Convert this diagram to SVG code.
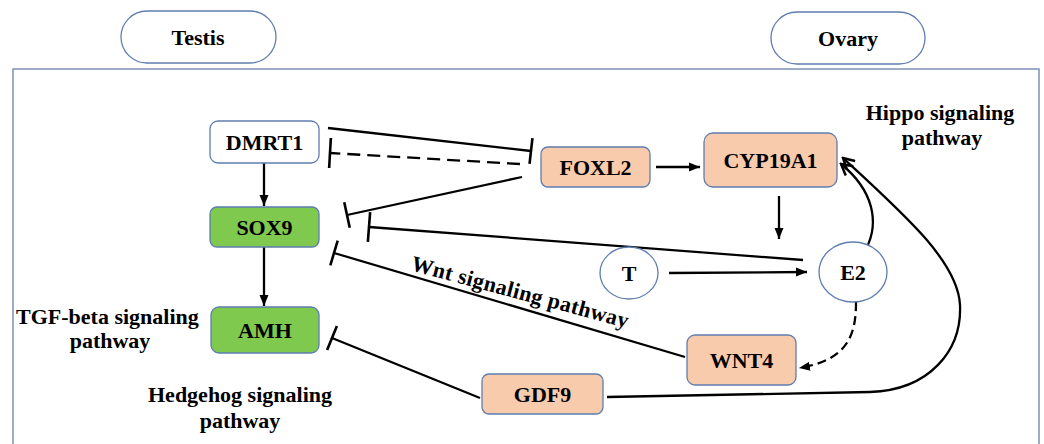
<svg xmlns="http://www.w3.org/2000/svg" width="1044" height="444" viewBox="0 0 1044 444">
<style>
text{font-family:"Liberation Serif","Times New Roman",serif;font-weight:bold;fill:#000;}
.lbl{font-size:22px;text-anchor:middle;}
.pw{font-size:22px;}
.box{stroke:#5f7db0;stroke-width:1.3;}
.peach{fill:#f8cbad;}
.green{fill:#7fc94f;}
.white{fill:#fff;}
.c{fill:none;stroke:#000;stroke-width:2.3;}
</style>
<defs>
<marker id="arr" markerUnits="userSpaceOnUse" markerWidth="12" markerHeight="10" refX="11" refY="5" orient="auto"><path d="M0,0.5 L11,5 L0,9.5 z" fill="#000"/></marker>
<marker id="open" markerUnits="userSpaceOnUse" markerWidth="14" markerHeight="14" refX="12" refY="7" orient="auto"><path d="M1,1 L12,7 L1,13" fill="none" stroke="#000" stroke-width="2.5"/></marker>
<marker id="tb26" markerUnits="userSpaceOnUse" markerWidth="6" markerHeight="32" refX="3" refY="16" orient="auto" overflow="visible"><path d="M3,3 L3,29" stroke="#000" stroke-width="2.6"/></marker>
<marker id="tb30" markerUnits="userSpaceOnUse" markerWidth="6" markerHeight="34" refX="3" refY="17" orient="auto" overflow="visible"><path d="M3,2 L3,32" stroke="#000" stroke-width="2.6"/></marker>
</defs>
<rect width="1044" height="444" fill="#fff"/>
<rect x="13" y="69" width="1026" height="390" fill="none" stroke="#7f93b5" stroke-width="1.5"/>
<g id="testis"><rect x="121" y="11" width="155" height="52" rx="26" fill="#fff" stroke="#5f7db0" stroke-width="1.3"/><text class="lbl" x="198" y="45">Testis</text></g>
<g id="ovary"><rect x="771" y="12" width="154" height="52" rx="26" fill="#fff" stroke="#5f7db0" stroke-width="1.3"/><text class="lbl" x="848" y="46">Ovary</text></g>
<g id="connectors">
<path class="c" d="M264,163 L264,206" marker-end="url(#arr)"/>
<path class="c" d="M264,247 L264,306" marker-end="url(#arr)"/>
<path class="c" d="M328,128 L531,151" marker-end="url(#tb26)"/>
<path class="c" d="M520,164 L330,153" stroke-dasharray="13,7" marker-end="url(#tb30)"/>
<path class="c" d="M522,177 L347,215" marker-end="url(#tb26)"/>
<path class="c" d="M803,260 L369,227" marker-end="url(#tb30)"/>
<path class="c" d="M685,357 L334,253" marker-end="url(#tb26)"/>
<path class="c" d="M480,398 L332,338" marker-end="url(#tb26)"/>
<path class="c" d="M656,167 L700,167" marker-end="url(#arr)"/>
<path class="c" d="M779,196 L779,239" marker-end="url(#arr)"/>
<path class="c" d="M669,273 L807,272" marker-end="url(#arr)"/>
<path class="c" d="M866,249 C880,222 873,190 841,164" stroke-width="2.8" marker-end="url(#open)"/>
<path class="c" d="M607,397 L870,392 C930,390 962,350 960,305 C958,262 905,215 843,158" marker-end="url(#open)"/>
<path class="c" d="M856,302 C856,335 848,360 799,368" stroke-width="3" stroke-dasharray="9,5" marker-end="url(#arr)"/>
</g>
<g id="DMRT1"><rect class="box white" x="210" y="121" width="109" height="42" rx="8"/><text class="lbl" x="264.5" y="150">DMRT1</text></g>
<g id="SOX9"><rect class="box green" x="210" y="207" width="109" height="40" rx="7"/><text class="lbl" x="264.5" y="235">SOX9</text></g>
<g id="AMH"><rect class="box green" x="211" y="307" width="108" height="46" rx="8"/><text class="lbl" x="265" y="338">AMH</text></g>
<g id="FOXL2"><rect class="box peach" x="541" y="147" width="109" height="40" rx="7"/><text class="lbl" x="595.5" y="175">FOXL2</text></g>
<g id="CYP19A1"><rect class="box peach" x="704" y="133" width="133" height="54" rx="9"/><text class="lbl" x="770.5" y="168">CYP19A1</text></g>
<g id="T"><ellipse cx="629" cy="273" rx="29" ry="26" fill="#fff" stroke="#5f7db0" stroke-width="1.3"/><text class="lbl" x="629" y="281">T</text></g>
<g id="E2"><ellipse cx="853" cy="272" rx="34" ry="30" fill="#fff" stroke="#5f7db0" stroke-width="1.3"/><text class="lbl" x="853" y="280">E2</text></g>
<g id="WNT4"><rect class="box peach" x="687" y="335" width="109" height="50" rx="8"/><text class="lbl" x="741.5" y="368">WNT4</text></g>
<g id="GDF9"><rect class="box peach" x="482" y="374" width="121" height="40" rx="7"/><text class="lbl" x="542.5" y="402">GDF9</text></g>
<g id="labels">
<text class="lbl" x="940" y="120">Hippo signaling</text>
<text class="lbl" x="942" y="145">pathway</text>
<text class="pw" x="16" y="324">TGF-beta signaling</text>
<text class="lbl" x="110" y="348">pathway</text>
<text class="lbl" x="240" y="402">Hedgehog signaling</text>
<text class="lbl" x="240" y="428">pathway</text>
<text class="pw" x="410" y="270" transform="rotate(15 410 270)" textLength="224" lengthAdjust="spacing">Wnt signaling pathway</text>
</g>
</svg>
